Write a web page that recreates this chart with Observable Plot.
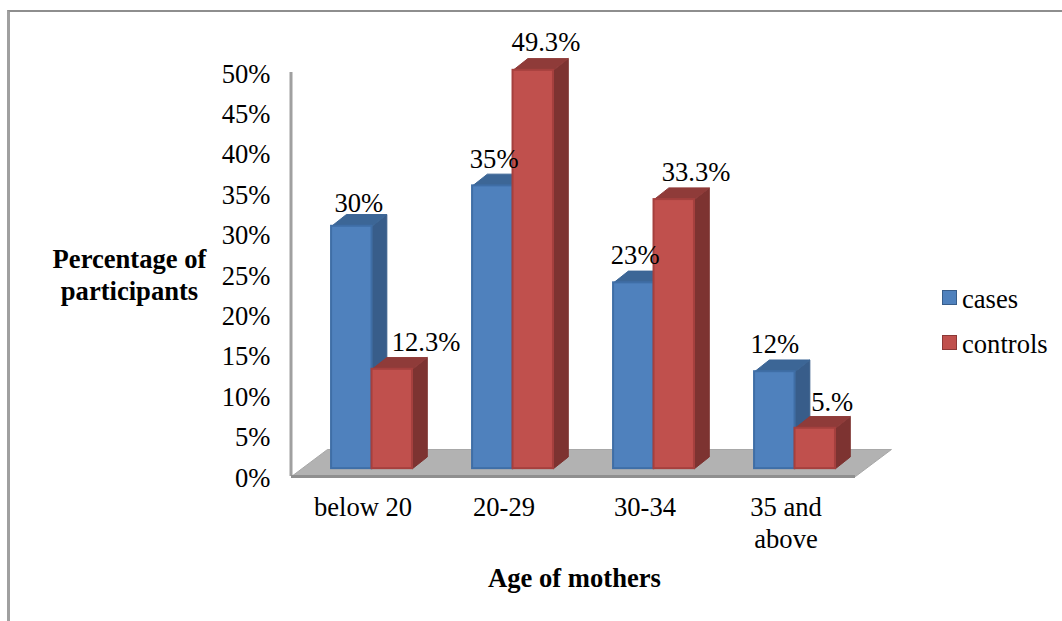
<!DOCTYPE html>
<html>
<head>
<meta charset="utf-8">
<script src="https://cdn.jsdelivr.net/npm/d3@7"></script>
<script src="https://cdn.jsdelivr.net/npm/@observablehq/plot@0.6"></script>
<style>
  html, body { margin: 0; padding: 0; background: #fff; overflow: hidden; }
  #wrap { position: relative; width: 1062px; height: 621px; font-family: "Liberation Serif", serif; color: #000; }
  #frame { position: absolute; left: 7px; top: 10px; right: 0; bottom: 0; border-top: 2px solid #8e8e8e; border-left: 3px solid #a0a0a0; }
  #chart { position: absolute; left: 0; top: 0; }
  .key { position: absolute; left: 942px; width: 13px; height: 13px; border: 1px solid; }
  .keytext { position: absolute; left: 962px; font-size: 26.6px; line-height: 28px; }
</style>
</head>
<body>
<div id="wrap"><div id="frame"></div><div id="chart"></div>
<div class="key" style="top:290px;background:#4f81bd;border-color:#385d8a"></div>
<div class="keytext" style="top:285px">cases</div>
<div class="key" style="top:335px;background:#c0504d;border-color:#8c3836"></div>
<div class="keytext" style="top:330px">controls</div>
</div>
<script>
const categories = ["below 20", "20-29", "30-34", "35 and\nabove"];
const cases = [30, 35, 23, 12];
const controls = [12.3, 49.3, 33.3, 5];
const caseLabels = ["30%", "35%", "23%", "12%"];
const controlLabels = ["12.3%", "49.3%", "33.3%", "5.%"];
const yTicks = [0, 5, 10, 15, 20, 25, 30, 35, 40, 45, 50];

// Pseudo-3D geometry, in scale units
const barLeft = 0.277, barWidth = 0.287, depthX = 0.105, depthY = 1.45, lift = 0.97;
const floorX = 0.255, floorY = 3.34;
const caseNudge = [[0.05, 23], [0.01, 26], [0.01, 27], [0, 27]];
const controlNudge = [[0.24, 27], [0.09, 28], [0.155, 27], [0.12, 26]];
const fontFamily = "Liberation Serif";
const fontSize = 26.6;

function faces(values, offset) {
  const front = [], side = [], top = [];
  values.forEach((v, i) => {
    const x1 = i + barLeft + offset * barWidth, x2 = x1 + barWidth, y1 = lift, y2 = v + lift;
    front.push({x1, x2, y1, y2});
    [[x2, y1], [x2 + depthX, y1 + depthY], [x2 + depthX, y2 + depthY], [x2, y2]]
      .forEach(([x, y]) => side.push({id: i, x, y}));
    [[x1, y2], [x1 + depthX, y2 + depthY], [x2 + depthX, y2 + depthY], [x2, y2]]
      .forEach(([x, y]) => top.push({id: i, x, y}));
  });
  return {front, side, top};
}
function barMarks(values, offset, c) {
  const f = faces(values, offset);
  return [
    Plot.line(f.side, {x: "x", y: "y", z: "id", fill: c.side, stroke: c.side, strokeWidth: 1}),
    Plot.line(f.top, {x: "x", y: "y", z: "id", fill: c.top, stroke: c.top, strokeWidth: 1}),
    Plot.rect(f.front, {x1: "x1", x2: "x2", y1: "y1", y2: "y2", fill: c.front, stroke: c.edge, strokeWidth: 2})
  ];
}
function labelData(values, labels, offset, nudge) {
  return values.map((v, i) => ({
    x: i + barLeft + (offset + 0.5) * barWidth + nudge[i][0],
    y: v + lift, t: labels[i], up: nudge[i][1]
  }));
}
const floor = [[0, 0], [floorX, floorY], [4 + floorX, floorY], [4, 0]].map(([x, y]) => ({x, y}));
const blue = {front: "#4f81bd", side: "#385d8a", top: "#3c6696", edge: "#3f6ea6"};
const red = {front: "#c0504d", side: "#7d3331", top: "#8f3b39", edge: "#a5403e"};

const labelMarks = labelData(cases, caseLabels, 0, caseNudge)
  .concat(labelData(controls, controlLabels, 1, controlNudge))
  .map(d => Plot.text([d], {x: "x", y: "y", text: "t", dy: -d.up, fontSize, fontFamily, fill: "#000", textAnchor: "middle", lineAnchor: "middle"}));

const chart = Plot.plot({
  width: 1062, height: 621,
  marginLeft: 292, marginRight: 206, marginTop: 72, marginBottom: 145,
  style: {background: "transparent", overflow: "visible"},
  x: {type: "linear", domain: [0, 4]},
  y: {type: "linear", domain: [0, 50]},
  marks: [
    Plot.line(floor, {x: "x", y: "y", fill: "#b2b2b2", stroke: "#a8a8a8", strokeWidth: 1, dx: -1}),
    Plot.ruleX([0], {y1: 0, y2: 50, stroke: "#a0a0a0", strokeWidth: 3, dx: -1.5}),
    Plot.ruleY([0], {x1: 0, x2: 4, stroke: "#8f8f8f", strokeWidth: 3, dx: -1}),
    ...barMarks(cases, 0, blue),
    ...barMarks(controls, 1, red),
    ...labelMarks,
    Plot.axisY({ticks: yTicks, tickSize: 0, tickPadding: 22, dy: 1.5, tickFormat: d => d + "%", fontSize, fontFamily, label: null, fill: "#000"}),
    Plot.axisX({ticks: [0.5, 1.5, 2.5, 3.5], tickSize: 0, tickPadding: 17, tickFormat: (d, i) => categories[i], fontSize, fontFamily, label: null, fill: "#000", lineHeight: 1.2}),
    Plot.text(["Percentage of\nparticipants"], {frameAnchor: "left", dx: -163, y: [25.1], x: null, text: d => d, textAnchor: "middle", fontSize, fontWeight: "bold", fontFamily, fill: "#000", lineHeight: 1.2}),
    Plot.text(["Age of mothers"], {frameAnchor: "bottom", dy: 110, text: d => d, fontSize, fontWeight: "bold", fontFamily, fill: "#000"})
  ]
});
document.getElementById("chart").appendChild(chart);
</script>
</body>
</html>
